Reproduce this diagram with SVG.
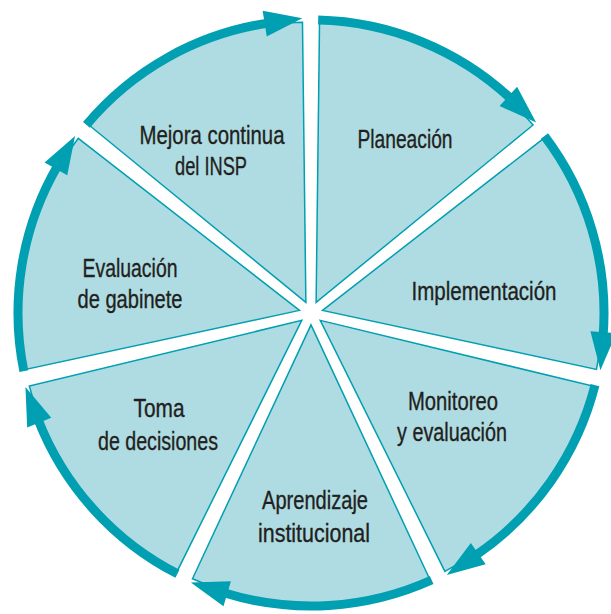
<svg xmlns="http://www.w3.org/2000/svg" xmlns:xlink="http://www.w3.org/1999/xlink" width="611" height="614" viewBox="0 0 611 614">
<style>
.wedge{fill:#aedce2;stroke:#009fb1;stroke-width:1.5;stroke-linejoin:miter}
.band{fill:none;stroke:#009fb1;stroke-width:9}
.head{fill:#009fb1}
.lbl{font-family:"Liberation Sans Narrow","Liberation Sans",Arial,sans-serif;font-size:26px;fill:#231f20;stroke:#231f20;stroke-width:0.35;text-anchor:middle}
</style>
<defs>
<path id="w" class="wedge" d="M 5.13,-10.65 L 8.53,-290.87 A 291 291 0 0 1 222.10,-188.02 Z"/>
<g id="arr">
<path class="band" d="M 7.16,-292.91 A 293 293 0 0 1 199.83,-214.29"/>
<path class="head" d="M 188.57,-206.99 L 225.15,-190.61 L 206.08,-226.21 Z"/>
</g>
</defs>
<rect width="611" height="614" fill="#ffffff"/>
<g id="n-planeacion">
<use xlink:href="#w" transform="translate(311,313) rotate(0)"/>
<text class="lbl" x="405" y="148" textLength="95" lengthAdjust="spacingAndGlyphs">Planeación</text>
</g>
<g id="n-implementacion">
<use xlink:href="#w" transform="translate(311,313) rotate(51.4286)"/>
<text class="lbl" x="484" y="300" textLength="145" lengthAdjust="spacingAndGlyphs">Implementación</text>
</g>
<g id="n-monitoreo">
<use xlink:href="#w" transform="translate(311,313) rotate(102.8571)"/>
<text class="lbl" x="453" y="410" textLength="90" lengthAdjust="spacingAndGlyphs">Monitoreo</text>
<text class="lbl" x="452" y="441" textLength="110" lengthAdjust="spacingAndGlyphs">y evaluación</text>
</g>
<g id="n-aprendizaje">
<use xlink:href="#w" transform="translate(311,313) rotate(154.2857)"/>
<text class="lbl" x="315" y="509" textLength="106" lengthAdjust="spacingAndGlyphs">Aprendizaje</text>
<text class="lbl" x="314" y="542" textLength="112" lengthAdjust="spacingAndGlyphs">institucional</text>
</g>
<g id="n-toma">
<use xlink:href="#w" transform="translate(311,313) rotate(205.7143)"/>
<text class="lbl" x="159" y="417" textLength="51" lengthAdjust="spacingAndGlyphs">Toma</text>
<text class="lbl" x="158" y="450" textLength="120" lengthAdjust="spacingAndGlyphs">de decisiones</text>
</g>
<g id="n-evaluacion">
<use xlink:href="#w" transform="translate(311,313) rotate(257.1429)"/>
<text class="lbl" x="130" y="277" textLength="95" lengthAdjust="spacingAndGlyphs">Evaluación</text>
<text class="lbl" x="130" y="308" textLength="105" lengthAdjust="spacingAndGlyphs">de gabinete</text>
</g>
<g id="n-mejora">
<use xlink:href="#w" transform="translate(311,313) rotate(308.5714)"/>
<text class="lbl" x="212" y="144" textLength="145" lengthAdjust="spacingAndGlyphs">Mejora continua</text>
<text class="lbl" x="211" y="175" textLength="72" lengthAdjust="spacingAndGlyphs">del INSP</text>
</g>
<g id="connectors">
<use xlink:href="#arr" transform="translate(311,313) rotate(0)"/>
<use xlink:href="#arr" transform="translate(311,313) rotate(51.4286)"/>
<use xlink:href="#arr" transform="translate(311,313) rotate(102.8571)"/>
<use xlink:href="#arr" transform="translate(311,313) rotate(154.2857)"/>
<use xlink:href="#arr" transform="translate(311,313) rotate(205.7143)"/>
<use xlink:href="#arr" transform="translate(311,313) rotate(257.1429)"/>
<use xlink:href="#arr" transform="translate(311,313) rotate(308.5714)"/>
</g>
</svg>
